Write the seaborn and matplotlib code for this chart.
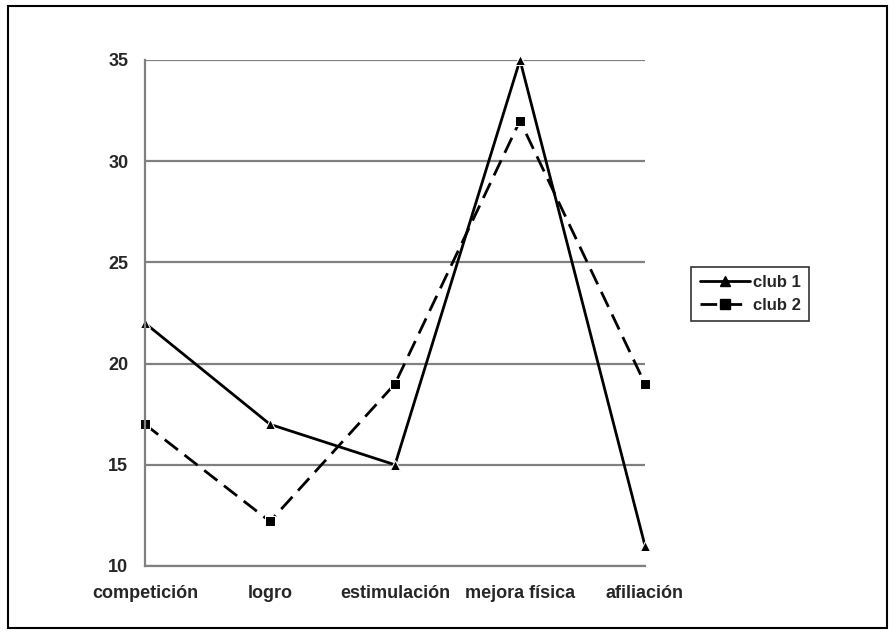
import numpy as np
import pandas as pd
import matplotlib
matplotlib.use("Agg")
import matplotlib.pyplot as plt
import seaborn as sns
from matplotlib.patches import Rectangle
from matplotlib.lines import Line2D

# datos
categorias = ["competición", "logro", "estimulación", "mejora física", "afiliación"]
club_1 = [22, 17, 15, 35, 11]
club_2 = [17, 12.2, 19, 32, 19]

sns.set_style("white")
plt.rcParams["font.family"] = ["Liberation Sans", "DejaVu Sans"]
plt.rcParams["font.weight"] = "bold"

df = pd.DataFrame({
    "x": list(range(len(categorias))) * 2,
    "valor": club_1 + club_2,
    "serie": ["club 1"] * len(categorias) + ["club 2"] * len(categorias),
})

fig = plt.figure(figsize=(8.93, 6.34), dpi=100)
ax = fig.add_axes([145 / 893, 1 - 566 / 634, 500 / 893, 506 / 634])

# borde exterior del gráfico
fig.patches.append(Rectangle((8 / 893, 6 / 634), 879 / 893, 622 / 634,
                             transform=fig.transFigure, fill=False,
                             edgecolor="black", linewidth=1.5))

sns.lineplot(data=df, x="x", y="valor", hue="serie", style="serie",
             palette={"club 1": "black", "club 2": "black"},
             dashes={"club 1": "", "club 2": (6, 3)},
             markers={"club 1": "^", "club 2": "s"},
             markersize=6.5, linewidth=2, ax=ax, legend=False)
for ln in ax.lines:
    ln.set_clip_on(False)

ax.set_xlim(0, len(categorias) - 1)
ax.set_ylim(10, 35)
ax.set_yticks(range(10, 36, 5))
ax.set_xticks(range(len(categorias)))
ax.set_xticklabels(categorias)
ax.set_xlabel("")
ax.set_ylabel("")

ax.grid(axis="y", color="#808080", linewidth=1.6)
ax.set_axisbelow(True)
for side in ["top", "right"]:
    ax.spines[side].set_visible(False)
for side in ["left", "bottom"]:
    ax.spines[side].set_color("#808080")
    ax.spines[side].set_linewidth(1.6)

ax.tick_params(axis="both", which="both", length=5, width=1.6, color="#808080",
               labelsize=13)
ax.tick_params(axis="x", pad=9)
ax.tick_params(axis="y", pad=7)
for lbl in ax.get_xticklabels() + ax.get_yticklabels():
    lbl.set_fontweight("bold")

# leyenda
handles = [
    Line2D([], [], color="black", linewidth=2, marker="^", markersize=6.5),
    Line2D([], [], color="black", linewidth=2, linestyle=(0, (6, 3)), marker="s", markersize=6.5),
]
leg = fig.legend(handles, ["club 1", "club 2"], loc="center left",
                 bbox_to_anchor=(683 / 893, 1 - 294 / 634), frameon=True,
                 fancybox=False, edgecolor="black",
                 handlelength=3.0, handletextpad=0.2, borderpad=0.5,
                 labelspacing=0.45, prop={"weight": "bold", "size": 12})
leg.get_frame().set_linewidth(1.2)

fig.savefig("out.png", dpi=100)
